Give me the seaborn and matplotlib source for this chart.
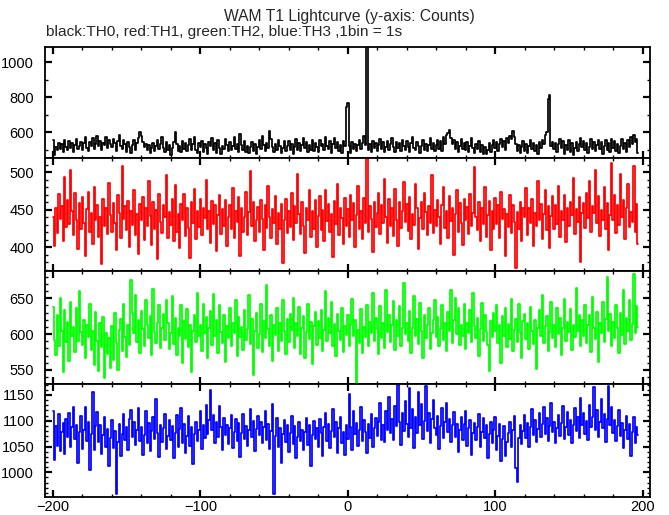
import numpy as np
import pandas as pd
import matplotlib
matplotlib.use("Agg")
import matplotlib.pyplot as plt
from matplotlib.ticker import MultipleLocator
import seaborn as sns

# counts per 1 s bin, first bin at t = -200 s
th0 = [
    558, 472, 515, 498, 541, 506, 532, 489, 553, 517, 496, 548, 510, 537, 486, 529, 561, 503, 524, 545,
    499, 538, 571, 512, 490, 547, 523, 566, 505, 534, 580, 519, 551, 497, 540, 528, 575, 509, 556, 531,
    514, 562, 537, 493, 549, 583, 521, 505, 558, 532, 488, 546, 516, 479, 527, 553, 501, 539, 568, 602,
    577, 545, 518, 534, 496, 528, 482, 511, 540, 492, 523, 558, 504, 535, 571, 510, 487, 544, 499, 526,
    468, 512, 547, 599, 531, 494, 519, 485, 552, 507, 538, 491, 526, 564, 500, 533, 572, 496, 482, 541,
    515, 549, 488, 530, 508, 476, 543, 521, 569, 497, 536, 484, 557, 511, 474, 524, 502, 561, 529, 493,
    547, 498, 519, 573, 506, 535, 489, 589, 527, 501, 550, 486, 522, 481, 514, 546, 495, 532, 478, 518,
    556, 503, 578, 526, 491, 540, 512, 605, 563, 517, 488, 534, 499, 555, 520, 483, 509, 548, 494, 523,
    551, 497, 530, 477, 514, 562, 501, 537, 490, 525, 566, 508, 544, 486, 529, 498, 553, 492, 541, 515,
    489, 558, 520, 533, 496, 571, 524, 502, 549, 484, 531, 567, 510, 545, 493, 527, 480, 552, 522, 742,
    765, 519, 482, 543, 506, 531, 490, 528, 557, 504, 536, 580, 527, 1110, 498, 533, 485, 549, 512, 540,
    494, 526, 561, 503, 545, 487, 518, 552, 499, 535, 568, 513, 486, 547, 508, 538, 491, 556, 521, 500,
    550, 516, 488, 537, 574, 509, 496, 544, 524, 479, 520, 553, 501, 532, 490, 527, 566, 505, 541, 493,
    529, 556, 507, 548, 495, 572, 535, 583, 596, 612, 569, 530, 558, 506, 547, 486, 523, 560, 503, 536,
    498, 542, 485, 521, 565, 512, 483, 534, 502, 551, 489, 528, 476, 515, 473, 500, 539, 488, 526, 557,
    509, 546, 492, 533, 561, 514, 550, 497, 567, 540, 578, 559, 610, 571, 531, 494, 527, 481, 513, 548,
    495, 532, 484, 521, 555, 503, 540, 490, 526, 475, 544, 511, 558, 534, 582, 604, 792, 815, 520, 547,
    506, 541, 489, 530, 560, 512, 549, 478, 527, 501, 554, 487, 538, 472, 509, 545, 493, 531, 566, 514,
    548, 497, 537, 481, 516, 563, 506, 544, 490, 528, 557, 503, 542, 477, 521, 553, 496, 539, 486, 561,
    510, 549, 492, 534, 480, 522, 562, 504, 541, 488, 555, 518, 571, 530, 587, 545, 560, 482,
]
th1 = [
    441, 402, 452, 419, 471, 438, 455, 409, 494, 427, 463, 431, 503, 448, 416, 472, 436, 398, 459, 425,
    467, 432, 389, 451, 474, 420, 446, 405, 481, 437, 457, 414, 440, 378, 465, 429, 452, 418, 486, 443,
    421, 459, 433, 397, 470, 446, 412, 508, 438, 455, 423, 462, 401, 449, 430, 476, 417, 444, 391, 458,
    436, 467, 410, 453, 428, 489, 442, 403, 461, 425, 450, 385, 471, 434, 419, 456, 440, 497, 412, 447,
    430, 464, 408, 483, 421, 445, 399, 458, 437, 471, 415, 452, 426, 386, 460, 433, 478, 411, 448, 427,
    465, 417, 453, 439, 490, 424, 448, 406, 462, 431, 456, 395, 443, 470, 418, 451, 429, 463, 402, 441,
    456, 425, 479, 412, 449, 434, 467, 389, 452, 421, 440, 474, 416, 447, 502, 429, 461, 408, 436, 454,
    420, 463, 438, 396, 457, 426, 482, 441, 413, 451, 432, 469, 404, 446, 424, 458, 379, 437, 465, 419,
    449, 427, 472, 410, 455, 433, 498, 444, 418, 460, 429, 392, 453, 437, 476, 414, 448, 425, 463, 401,
    442, 468, 423, 450, 409, 477, 435, 458, 420, 445, 387, 462, 431, 485, 417, 453, 439, 405, 466, 428,
    451, 414, 470, 436, 459, 400, 443, 482, 425, 448, 411, 466, 433, 519, 421, 455, 438, 394, 461, 427,
    446, 473, 418, 457, 432, 491, 440, 406, 464, 429, 452, 415, 478, 437, 402, 460, 426, 449, 487, 434,
    458, 422, 467, 411, 445, 430, 484, 453, 398, 439, 461, 424, 472, 447, 416, 455, 433, 496, 419, 450,
    428, 463, 440, 405, 457, 481, 426, 448, 412, 469, 435, 453, 390, 444, 476, 421, 459, 432, 403, 465,
    437, 454, 418, 471, 429, 446, 507, 441, 423, 460, 408, 452, 431, 480, 414, 443, 462, 396, 449, 425,
    466, 431, 457, 413, 474, 438, 451, 388, 445, 427, 470, 419, 456, 434, 373, 447, 424, 461, 409, 453,
    440, 479, 416, 452, 433, 465, 402, 446, 428, 489, 437, 458, 411, 444, 476, 423, 455, 399, 442, 468,
    425, 456, 431, 482, 414, 449, 436, 470, 407, 453, 428, 461, 443, 493, 418, 451, 434, 467, 380, 446,
    459, 426, 472, 439, 488, 421, 455, 446, 503, 432, 468, 415, 450, 437, 481, 424, 459, 397, 443, 512,
    436, 470, 419, 457, 430, 498, 441, 463, 411, 452, 485, 427, 447, 434, 509, 421, 458, 405,
]
th2 = [
    638, 592, 571, 626, 583, 651, 604, 547, 633, 589, 617, 562, 645, 598, 610, 575, 636, 591, 660, 603,
    585, 620, 567, 612, 596, 642, 578, 604, 557, 631, 590, 548, 615, 582, 624, 539, 601, 572, 595, 553,
    611, 564, 629, 588, 550, 606, 621, 577, 642, 596, 568, 613, 585, 676, 630, 602, 655, 589, 619, 574,
    632, 607, 583, 648, 612, 594, 625, 571, 663, 603, 587, 616, 640, 580, 609, 628, 592, 648, 615, 579,
    601, 653, 586, 623, 571, 608, 597, 641, 560, 618, 593, 635, 582, 612, 547, 604, 627, 589, 658, 598,
    613, 576, 642, 601, 624, 566, 609, 632, 585, 656, 597, 619, 574, 640, 603, 588, 626, 561, 611, 594,
    637, 583, 615, 602, 648, 569, 624, 596, 610, 578, 633, 592, 607, 655, 586, 621, 543, 604, 629, 581,
    600, 642, 575, 618, 594, 669, 607, 584, 626, 563, 612, 599, 636, 577, 615, 591, 647, 605, 572, 621,
    589, 628, 606, 651, 580, 615, 597, 638, 572, 609, 625, 566, 603, 642, 593, 617, 558, 611, 631, 585,
    618, 595, 634, 577, 606, 660, 590, 622, 601, 645, 583, 614, 569, 628, 604, 592, 637, 575, 611, 599,
    626, 584, 613, 649, 597, 620, 531, 606, 588, 635, 574, 610, 596, 641, 583, 617, 602, 658, 591, 623,
    607, 572, 639, 595, 616, 581, 662, 603, 627, 589, 613, 646, 578, 620, 597, 639, 584, 608, 671, 600,
    615, 591, 632, 574, 609, 653, 598, 621, 586, 644, 605, 567, 627, 594, 612, 636, 579, 602, 619, 648,
    596, 624, 583, 607, 640, 592, 615, 576, 631, 604, 662, 588, 619, 651, 600, 637, 585, 612, 597, 642,
    579, 616, 602, 634, 589, 657, 611, 595, 623, 569, 607, 644, 591, 626, 603, 585, 548, 618, 596, 630,
    604, 641, 587, 612, 560, 625, 598, 636, 582, 614, 593, 649, 577, 606, 621, 589, 642, 601, 567, 618,
    628, 593, 615, 579, 638, 604, 586, 620, 552, 609, 633, 597, 654, 587, 611, 625, 576, 603, 645, 594,
    613, 582, 636, 600, 622, 571, 608, 649, 590, 617, 603, 635, 578, 612, 596, 664, 605, 627, 584, 619,
    598, 640, 587, 613, 626, 575, 652, 608, 593, 631, 561, 616, 602, 645, 589, 621, 679, 604, 628, 583,
    617, 595, 641, 608, 574, 630, 599, 661, 586, 623, 605, 647, 592, 614, 684, 601, 639, 610,
]
th3 = [
    1118, 1023, 1089, 1052, 1113, 1041, 1078, 1096, 1035, 1103, 1068, 1115, 1050, 1087, 1127, 1064, 1092, 1018, 1079, 1110,
    1045, 1082, 1126, 1061, 1098, 1005, 1074, 1155, 1043, 1089, 1117, 1058, 1091, 1036, 1072, 1108, 1049, 1084, 1012, 1066,
    1101, 1047, 1080, 958, 1058, 1094, 1031, 1075, 1113, 1062, 1087, 1043, 1104, 1121, 1069, 1098, 1053, 1082, 1125, 1060,
    1088, 1034, 1073, 1119, 1056, 1095, 1041, 1080, 1107, 1064, 1142, 1077, 1030, 1092, 1058, 1086, 1113, 1045, 1071, 1101,
    1063, 1090, 1027, 1076, 1112, 1049, 1084, 1125, 1056, 1093, 1038, 1070, 1109, 1052, 1087, 1017, 1074, 1098, 1061, 1083,
    1119, 1046, 1092, 1066, 1130, 1074, 1101, 1160, 1083, 1112, 1057, 1097, 1069, 1128, 1088, 1044, 1105, 1073, 1091, 1055,
    1086, 1112, 1048, 1079, 1103, 1061, 1095, 1030, 1077, 1114, 1065, 1090, 1052, 1083, 1122, 1068, 1099, 1041, 1084, 1109,
    1073, 1097, 1056, 1088, 1118, 1062, 1093, 1045, 1081, 1132, 957, 1070, 1105, 1050, 1086, 1019, 1075, 1101, 1058, 1092,
    1039, 1077, 1110, 1054, 1089, 1027, 1068, 1097, 1061, 1083, 1044, 1079, 1106, 1053, 1091, 1012, 1072, 1099, 1064, 1085,
    1050, 1103, 1076, 1031, 1088, 1116, 1060, 1094, 1047, 1081, 1122, 1069, 1097, 1038, 1085, 1108, 1056, 1079, 1033, 1091,
    1065, 1152, 1087, 1043, 1118, 1074, 1096, 1052, 1083, 1127, 1060, 1101, 1079, 1038, 1093, 1066, 1114, 1049, 1086, 1105,
    1071, 1098, 1134, 1063, 1092, 1058, 1119, 1083, 1147, 1076, 1104, 1062, 1128, 1089, 1170, 1097, 1053, 1116, 1081, 1139,
    1094, 1069, 1163, 1085, 1122, 1047, 1108, 1077, 1156, 1092, 1133, 1064, 1099, 1168, 1080, 1115, 1057, 1103, 1141, 1086,
    1072, 1110, 1046, 1089, 1125, 1066, 1097, 1134, 1078, 1104, 1058, 1091, 1117, 1069, 1093, 1039, 1082, 1107, 1063, 1094,
    1119, 1051, 1085, 1102, 1034, 1076, 1095, 1062, 1088, 1113, 1049, 1079, 1105, 1067, 1091, 1028, 1074, 1097, 1056, 1082,
    1107, 1043, 1071, 1094, 1021, 1065, 1089, 1031, 1058, 1076, 1098, 1049, 1083, 1109, 1009, 982, 1067, 1092, 1054, 1081,
    1112, 1066, 1095, 1050, 1087, 1123, 1072, 1101, 1059, 1084, 1115, 1068, 1093, 1127, 1074, 1106, 1061, 1089, 1134, 1078,
    1098, 1057, 1086, 1111, 1070, 1095, 1129, 1064, 1088, 1117, 1073, 1102, 1056, 1092, 1124, 1080, 1108, 1067, 1145, 1091,
    1116, 1075, 1099, 1063, 1131, 1087, 1108, 1166, 1082, 1120, 1069, 1097, 1142, 1085, 1113, 1058, 1104, 1168, 1091, 1126,
    1077, 1102, 1060, 1089, 1121, 1071, 1096, 1048, 1083, 1110, 1065, 1094, 1032, 1079, 1107, 1056, 1088, 1073,
]

series = [th0, th1, th2, th3]
colors = ["black", "red", "#00ff00", "blue"]
ylims = [(451, 1086), (368.4, 518.7), (530, 688), (952.7, 1170.7)]
ymajor = [200, 50, 50, 50]
yminor = [100, 10, 10, 10]

title = "WAM T1 Lightcurve (y-axis: Counts)"
subtitle = "black:TH0, red:TH1, green:TH2, blue:TH3 ,1bin = 1s"

sns.set_style("ticks")
plt.rcParams["font.family"] = ["Liberation Sans", "DejaVu Sans"]

fig = plt.figure(figsize=(6.69, 5.15), dpi=100)
left, width = 45.3 / 669, 605.0 / 669
edges = [47.3, 158.3, 271.0, 384.3, 496.7]

for k, (vals, col) in enumerate(zip(series, colors)):
    top, bot = edges[k], edges[k + 1]
    ax = fig.add_axes([left, 1 - bot / 515, width, (bot - top) / 515])
    df = pd.DataFrame({"t": np.arange(len(vals)) - 200, "c": vals})
    sns.lineplot(data=df, x="t", y="c", ax=ax, color=col, lw=1.25,
                 drawstyle="steps-mid", estimator=None, sort=False)
    ax.set_xlim(-205.2, 205.2)
    ax.set_ylim(*ylims[k])
    ax.set_xlabel("")
    ax.set_ylabel("")
    ax.xaxis.set_major_locator(MultipleLocator(100))
    ax.xaxis.set_minor_locator(MultipleLocator(20))
    ax.yaxis.set_major_locator(MultipleLocator(ymajor[k]))
    ax.yaxis.set_minor_locator(MultipleLocator(yminor[k]))
    ax.tick_params(which="both", direction="in", top=True, right=True, colors="black")
    ax.tick_params(which="major", length=5, width=1.6, labelsize=10.5)
    ax.tick_params(which="minor", length=2.5, width=1.0)
    ax.tick_params(axis="x", which="major", pad=2.5)
    ax.tick_params(axis="y", which="major", pad=8)
    for s in ax.spines.values():
        s.set_linewidth(1.3)
        s.set_color("black")
    if k < 3:
        ax.tick_params(labelbottom=False)

# fit the two header lines to the widths measured on the reference
renderer = fig.canvas.get_renderer()
t1 = fig.text(349 / 669, 1 - 16 / 515, title, ha="center", va="center", fontsize=10.5)
t2 = fig.text(46 / 669, 1 - 32 / 515, subtitle, ha="left", va="center", fontsize=10.5)
for txt, target in [(t1, 252.0), (t2, 358.0)]:
    w = txt.get_window_extent(renderer).width
    txt.set_fontsize(10.5 * target / w)

fig.savefig("out.png", dpi=100)
